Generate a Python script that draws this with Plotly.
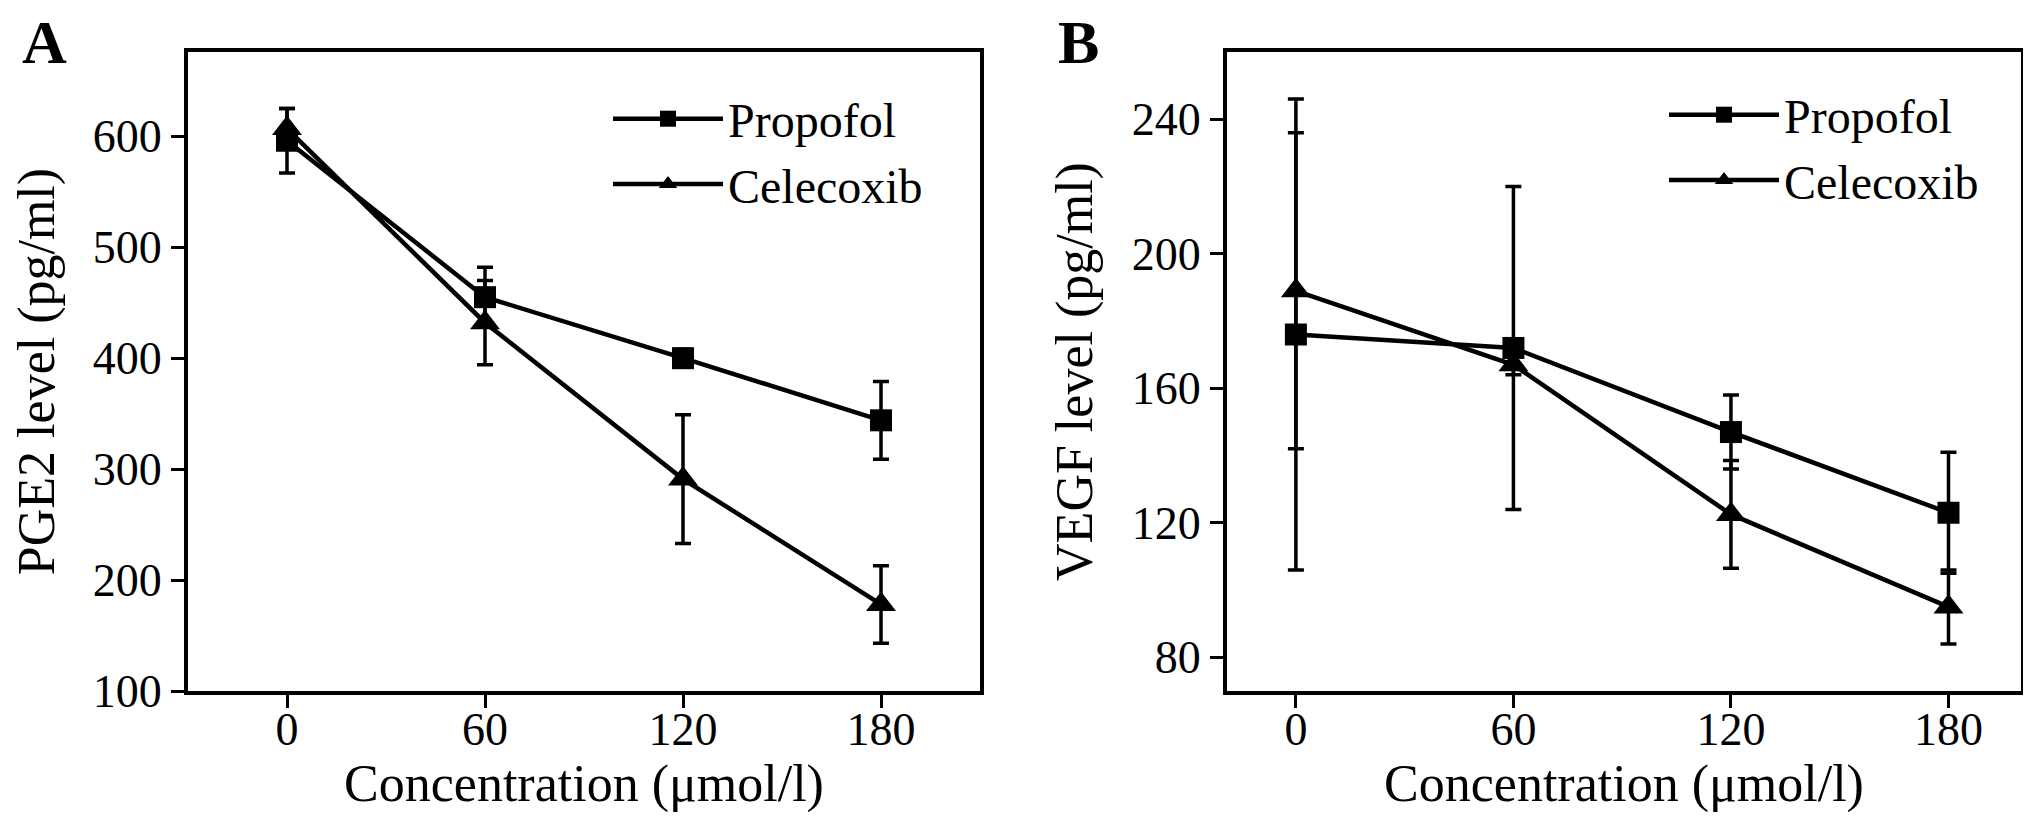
import plotly.graph_objects as go

# Concentration levels (µmol/l)
conc = [0, 60, 120, 180]

# Panel A: PGE2 level (pg/ml)
pge2_propofol = [596, 455, 400, 344]
pge2_propofol_err = [29, 27, 8, 35]
pge2_celecoxib = [607, 432, 291, 178]
pge2_celecoxib_err = [18, 38, 58, 35]

# Panel B: VEGF level (pg/ml)
vegf_propofol = [176, 172, 147, 123]
vegf_propofol_err = [70, 48, 11, 18]
vegf_celecoxib = [189, 167, 122.5, 95]
vegf_celecoxib_err = [47, 3, 16, 11]

FONT = "Liberation Serif"
W, H = 2031, 828

fig = go.Figure()


def add_series(x, y, err, name, symbol, size, xa, ya, legend):
    fig.add_trace(go.Scatter(
        x=x, y=y, name=name, mode="lines+markers",
        line=dict(color="black", width=4.5),
        marker=dict(symbol=symbol, size=size, color="black"),
        error_y=dict(type="data", array=err, visible=True,
                     color="black", thickness=3.5, width=8),
        xaxis=xa, yaxis=ya, legend=legend,
    ))


add_series(conc, pge2_propofol, pge2_propofol_err, "Propofol", "square", 22, "x", "y", "legend")
add_series(conc, pge2_celecoxib, pge2_celecoxib_err, "Celecoxib", "triangle-up", 26, "x", "y", "legend")
add_series(conc, vegf_propofol, vegf_propofol_err, "Propofol", "square", 22, "x2", "y2", "legend2")
add_series(conc, vegf_celecoxib, vegf_celecoxib_err, "Celecoxib", "triangle-up", 26, "x2", "y2", "legend2")

# --- axes ---
ydom = [1 - 683 / H, 1 - 44 / H]
axis_common = dict(
    showline=True, linewidth=4, linecolor="black", mirror=True,
    ticks="outside", ticklen=13, tickwidth=3, tickcolor="black",
    showgrid=False, zeroline=False,
    tickfont=dict(family=FONT, size=46, color="black"),
    title_font=dict(family=FONT, size=52, color="black"),
    automargin=False,
)
xaxis_extra = dict(tickvals=conc, title_text="Concentration (μmol/l)",
                   title_standoff=10, ticklabelstandoff=-18)

fig.update_layout(
    xaxis=dict(domain=[180 / W, 972 / W], range=[-30, 210], anchor="y",
               **xaxis_extra, **axis_common),
    yaxis=dict(domain=ydom, range=[100, 676], anchor="x",
               tickvals=[100, 200, 300, 400, 500, 600], title_text="PGE2 level (pg/ml)",
               title_standoff=26, **axis_common),
    xaxis2=dict(domain=[1219 / W, 2013 / W], range=[-19, 200], anchor="y2",
                **xaxis_extra, **axis_common),
    yaxis2=dict(domain=ydom, range=[70, 260], anchor="x2",
                tickvals=[80, 120, 160, 200, 240], title_text="VEGF level (pg/ml)",
                title_standoff=24, **axis_common),
)

legend_common = dict(
    font=dict(family=FONT, size=48, color="black"),
    bgcolor="rgba(0,0,0,0)", itemwidth=110, tracegroupgap=0,
    xanchor="left", yanchor="top",
)
fig.update_layout(
    legend=dict(x=600 / W, y=1 - 73 / H, **legend_common),
    legend2=dict(x=1656 / W, y=1 - 69 / H, **legend_common),
)

# panel letters
for letter, xpos in (("A", 12 / W), ("B", 1048 / W)):
    fig.add_annotation(text=f"<b>{letter}</b>", xref="paper", yref="paper",
                       x=xpos, y=1 - 34 / H, xanchor="left", yanchor="middle",
                       showarrow=False, font=dict(family=FONT, size=62, color="black"))

fig.update_layout(
    width=W, height=H,
    margin=dict(l=0, r=0, t=0, b=0),
    paper_bgcolor="white", plot_bgcolor="white",
)

fig.write_html("out.html")
